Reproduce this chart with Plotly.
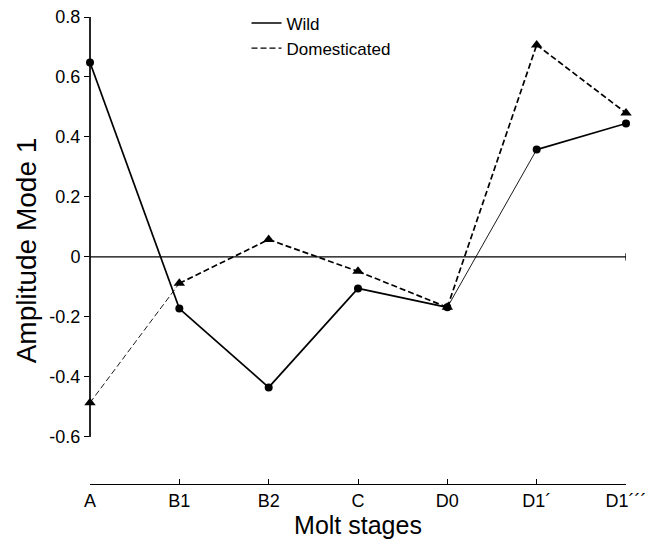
import plotly.graph_objects as go

stages = ["A", "B1", "B2", "C", "D0", "D1´", "D1´´´"]
wild = [0.648, -0.172, -0.435, -0.105, -0.168, 0.358, 0.445]
domesticated = [-0.486, -0.088, 0.058, -0.048, -0.168, 0.707, 0.48]
y_ticks = [0.8, 0.6, 0.4, 0.2, 0, -0.2, -0.4, -0.6]
y_labels = ["0.8", "0.6", "0.4", "0.2", "0", "-0.2", "-0.4", "-0.6"]

# thin segments (index of starting point)
wild_thin = {4}
dom_thin = {0}

xs = list(range(len(stages)))
fig = go.Figure()

def add_series(vals, name, dash, symbol, msize, thin):
    n = len(vals)
    for i in range(n - 1):
        w = 0.9 if i in thin else 1.7
        fig.add_trace(go.Scatter(
            x=xs[i:i + 2], y=vals[i:i + 2], mode="lines",
            line=dict(color="black", width=w, dash=dash),
            showlegend=False, hoverinfo="skip", cliponaxis=False))
    fig.add_trace(go.Scatter(
        x=xs, y=vals, mode="markers", name=name,
        marker=dict(color="black", symbol=symbol, size=msize),
        showlegend=False, cliponaxis=False))
    fig.add_trace(go.Scatter(
        x=[None], y=[None], mode="lines", name=name,
        line=dict(color="black", width=1.3, dash=dash), showlegend=True))

add_series(wild, "Wild", "solid", "circle", 8, wild_thin)
add_series(domesticated, "Domesticated", "6px,3px", "triangle-up", 10, dom_thin)

font = "Liberation Sans, Arial, sans-serif"

fig.update_layout(
    width=649, height=543,
    margin=dict(l=90, r=23, t=17, b=59, autoexpand=False),
    plot_bgcolor="white", paper_bgcolor="white",
    font=dict(family=font, color="black", size=18),
    showlegend=True,
    legend=dict(x=0.292, y=0.99, xanchor="left", yanchor="top", yref="container",
                bgcolor="rgba(0,0,0,0)", itemwidth=30,
                font=dict(size=17), tracegroupgap=0),
    xaxis=dict(
        range=[0, 6], tickmode="array", tickvals=xs, ticktext=stages,
        showline=True, linecolor="black", linewidth=1.3,
        ticks="inside", ticklen=5, tickwidth=1.3, tickcolor="black",
        showgrid=False, zeroline=False,
        title=dict(text="Molt stages", font=dict(size=25), standoff=6),
        tickfont=dict(size=18)),
    yaxis=dict(
        range=[-0.757, 0.8], tickmode="array", tickvals=y_ticks, ticktext=y_labels,
        showline=False, ticks="outside", ticklen=5, tickwidth=1.3, tickcolor="black",
        showgrid=False, zeroline=False,
        title=dict(text="Amplitude Mode 1", font=dict(size=28), standoff=4),
        tickfont=dict(size=18)),
)

# y axis line from -0.6 to 0.8
fig.add_shape(type="line", xref="paper", yref="y", x0=0, x1=0,
              y0=y_ticks[-1], y1=y_ticks[0], line=dict(color="black", width=1.7))
# zero reference line
fig.add_shape(type="line", xref="x", yref="y", x0=0, x1=6, y0=0, y1=0,
              line=dict(color="black", width=1.3), layer="below")
fig.add_shape(type="line", xref="x", yref="y", x0=6, x1=6, y0=-0.012, y1=0.012,
              line=dict(color="black", width=1.3))

fig.write_html("out.html")
